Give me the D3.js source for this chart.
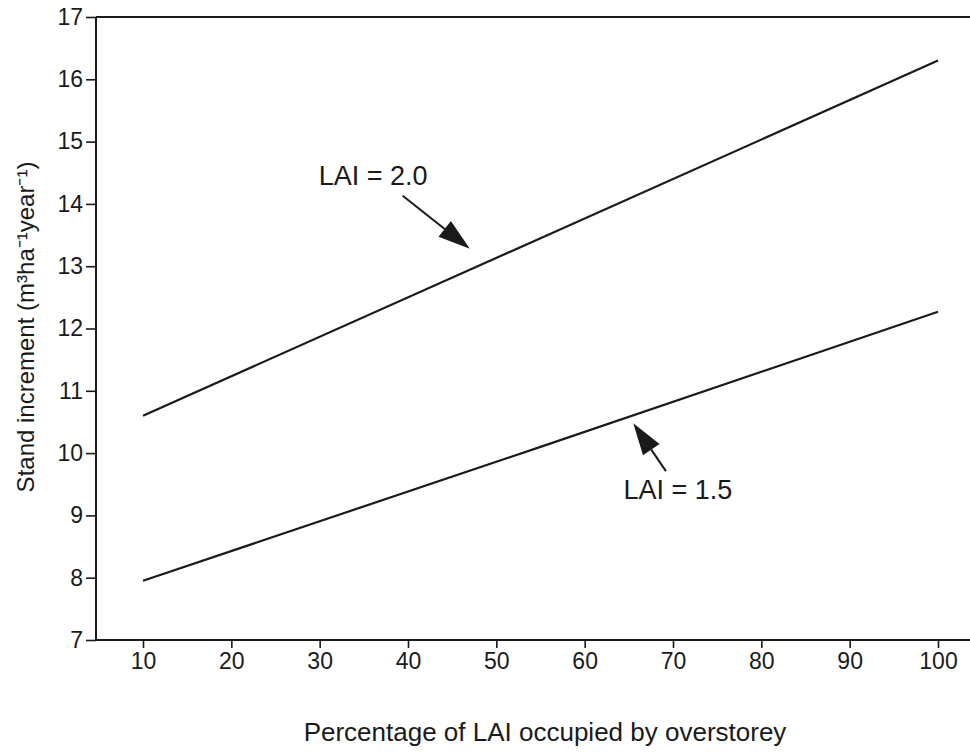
<!DOCTYPE html>
<html>
<head>
<meta charset="utf-8">
<script src="https://cdn.jsdelivr.net/npm/d3@7"></script>
<style>
  body { margin: 0; background: #fff; }
  text { font-family: "Liberation Sans", Arial, sans-serif; fill: #1a1a1a; }
</style>
</head>
<body>
<div id="chart"></div>
<script>
// Percentage of LAI occupied by overstorey
const percent = [10, 55, 100];
// Stand increment for each LAI
const lai20 = [10.6, 13.45, 16.3];
const lai15 = [7.95, 10.1, 12.27];
const xTicks = [10, 20, 30, 40, 50, 60, 70, 80, 90, 100];
const yTicks = [7, 8, 9, 10, 11, 12, 13, 14, 15, 16, 17];

const width = 970;
const height = 754;

const svg = d3.select("#chart")
  .append("svg")
  .attr("width", width)
  .attr("height", height);

const xScale = d3.scaleLinear().domain([10, 100]).range([143, 938]);
const yScale = d3.scaleLinear().domain([7, 17]).range([640, 17]);

const ink = "#1a1a1a";

// axes
const xAxis = svg.append("g")
  .attr("transform", `translate(0,${yScale(7)})`)
  .call(d3.axisBottom(xScale).tickValues(xTicks).tickSize(8).tickPadding(5).tickFormat(d3.format("d")));
xAxis.select(".domain").remove();
xAxis.selectAll("line").attr("stroke", ink).attr("stroke-width", 1.6);
xAxis.selectAll("text").attr("font-size", 23).attr("fill", ink);

const yAxis = svg.append("g")
  .attr("transform", "translate(96,0)")
  .call(d3.axisLeft(yScale).tickValues(yTicks).tickSize(10).tickPadding(3).tickFormat(d3.format("d")));
yAxis.select(".domain").remove();
yAxis.selectAll("line").attr("stroke", ink).attr("stroke-width", 1.6);
yAxis.selectAll("text").attr("font-size", 23).attr("fill", ink);

// frame lines: left, bottom, top
svg.append("line")
  .attr("x1", 96).attr("x2", 96)
  .attr("y1", yScale(17)).attr("y2", yScale(7))
  .attr("stroke", ink).attr("stroke-width", 2);
svg.append("line")
  .attr("x1", 96).attr("x2", width)
  .attr("y1", yScale(7)).attr("y2", yScale(7))
  .attr("stroke", ink).attr("stroke-width", 2);
svg.append("line")
  .attr("x1", 96).attr("x2", width)
  .attr("y1", yScale(17)).attr("y2", yScale(17))
  .attr("stroke", ink).attr("stroke-width", 2);

// data lines
const line = d3.line()
  .x((d) => xScale(d[0]))
  .y((d) => yScale(d[1]));

[lai20, lai15].forEach((vals) => {
  svg.append("path")
    .datum(percent.map((p, i) => [p, vals[i]]))
    .attr("d", line)
    .attr("fill", "none")
    .attr("stroke", ink)
    .attr("stroke-width", 2.2);
});

// annotations: label position and arrow (from -> tip) in data units
const notes = [
  { text: "LAI = 2.0", tx: 29.9, ty: 14.3, from: [39.4, 14.13], tip: [47.0, 13.28] },
  { text: "LAI = 1.5", tx: 64.4, ty: 9.26, from: [69.2, 9.71], tip: [65.5, 10.48] },
];

notes.forEach((n) => {
  svg.append("text")
    .attr("x", xScale(n.tx))
    .attr("y", yScale(n.ty))
    .attr("font-size", 27)
    .text(n.text);

  const x1 = xScale(n.from[0]), y1 = yScale(n.from[1]);
  const x2 = xScale(n.tip[0]), y2 = yScale(n.tip[1]);
  const ang = Math.atan2(y2 - y1, x2 - x1);
  const headLen = 32, headW = 10;
  const bx = x2 - headLen * Math.cos(ang), by = y2 - headLen * Math.sin(ang);
  svg.append("line")
    .attr("x1", x1).attr("y1", y1)
    .attr("x2", bx).attr("y2", by)
    .attr("stroke", ink).attr("stroke-width", 2);
  const px = -Math.sin(ang) * headW, py = Math.cos(ang) * headW;
  svg.append("path")
    .attr("d", `M${x2},${y2}L${bx + px},${by + py}L${bx - px},${by - py}Z`)
    .attr("fill", ink);
});

// axis titles
svg.append("text")
  .attr("x", 545)
  .attr("y", 741)
  .attr("text-anchor", "middle")
  .attr("font-size", 26)
  .text("Percentage of LAI occupied by overstorey");

svg.append("text")
  .attr("transform", "translate(34,327) rotate(-90)")
  .attr("text-anchor", "middle")
  .attr("font-size", 24)
  .text("Stand increment (m³ha⁻¹year⁻¹)");
</script>
</body>
</html>
